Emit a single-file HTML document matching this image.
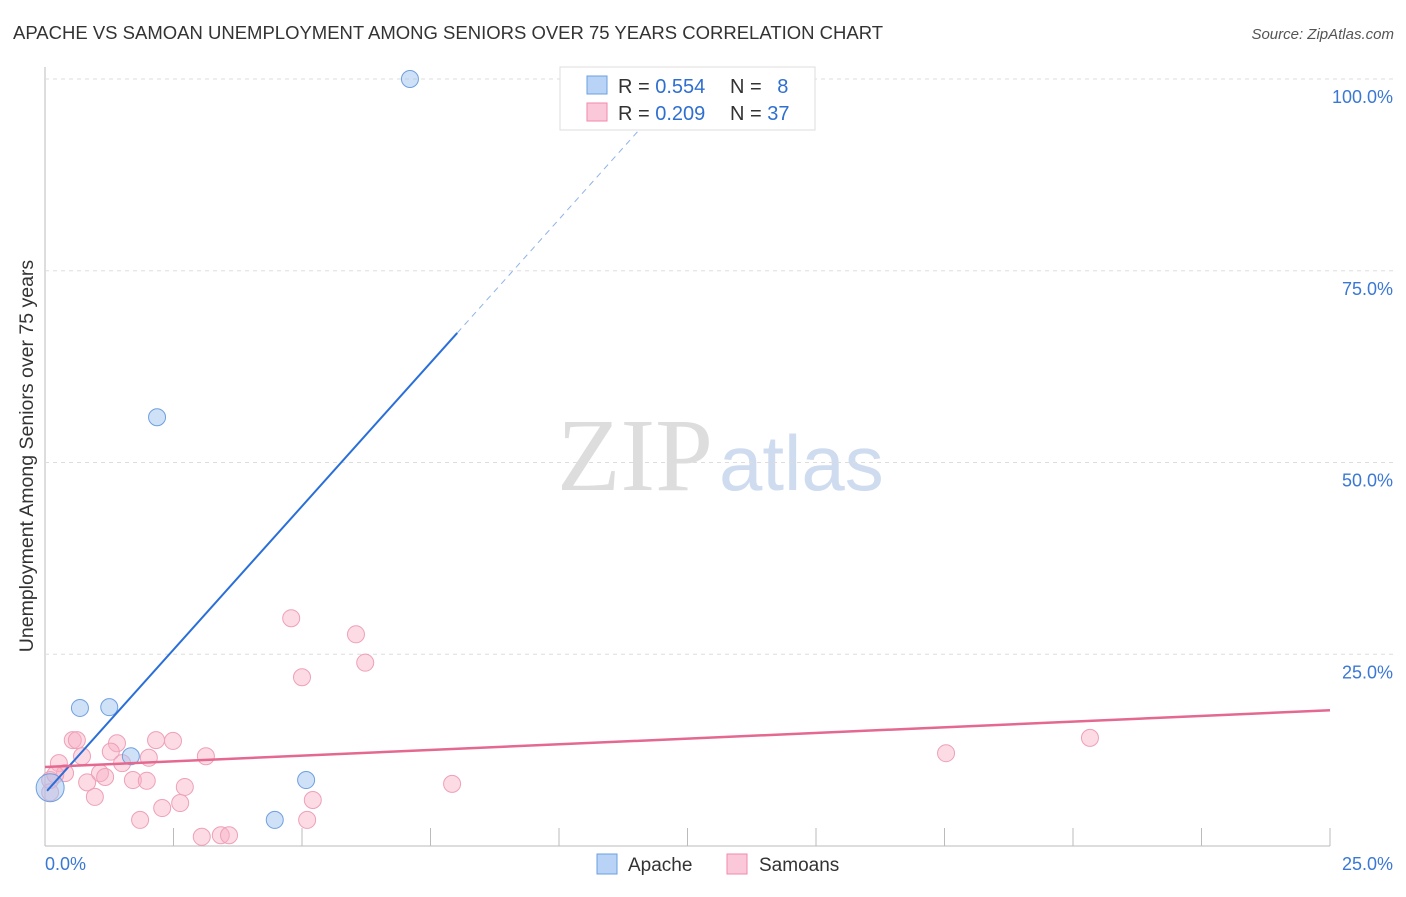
<!DOCTYPE html>
<html><head><meta charset="utf-8"><style>
body{margin:0;background:#fff;font-family:"Liberation Sans",sans-serif;}
</style></head><body>
<svg id="c" width="1406" height="892" xmlns="http://www.w3.org/2000/svg">
<text x="13" y="39" font-size="18.5" fill="#333">APACHE VS SAMOAN UNEMPLOYMENT AMONG SENIORS OVER 75 YEARS CORRELATION CHART</text>
<text x="1394" y="39" font-size="15" fill="#555" font-style="italic" text-anchor="end">Source: ZipAtlas.com</text>
<text x="713" y="490" font-size="104" fill="#ddd" font-family="Liberation Serif,serif" text-anchor="end">ZIP</text>
<text x="719" y="490" font-size="78" fill="#cfdcf0">atlas</text>
<text transform="translate(33,456) rotate(-90)" font-size="19.5" fill="#333" text-anchor="middle">Unemployment Among Seniors over 75 years</text>
<g id="grid"></g><g id="marks"></g>
<g>
<rect x="560" y="67" width="255" height="63" fill="#fff" stroke="#ddd"/>
<rect x="587" y="76" width="20" height="18" fill="#b8d3f5" stroke="#6a9fe0"/>
<rect x="587" y="103" width="20" height="18" fill="#fac8d8" stroke="#f08aab"/>
<text x="618" y="93" font-size="20" fill="#333">R = <tspan fill="#2f6fd0">0.554</tspan></text>
<text x="730" y="93" font-size="20" fill="#333">N = <tspan fill="#2f6fd0" dx="10">8</tspan></text>
<text x="618" y="120" font-size="20" fill="#333">R = <tspan fill="#2f6fd0">0.209</tspan></text>
<text x="730" y="120" font-size="20" fill="#333">N = <tspan fill="#2f6fd0">37</tspan></text>
</g>
<g>
<rect x="597" y="854" width="20" height="20" fill="#b8d3f5" stroke="#6a9fe0"/>
<text x="628" y="871" font-size="19" fill="#333">Apache</text>
<rect x="727" y="854" width="20" height="20" fill="#fac8d8" stroke="#f08aab"/>
<text x="759" y="871" font-size="19" fill="#333">Samoans</text>
</g>
</svg>
<script>
const apacheX=[7.10,2.18,0.68,1.25,1.67,5.08,4.47,0.10];
const apacheY=[100.0,55.9,18.0,18.1,11.7,8.6,3.4,7.6];
const samoanX=[4.79,6.05,6.23,5.00,0.54,0.62,0.27,0.72,1.40,1.28,2.16,2.49,3.13,2.02,1.50,0.39,1.07,1.17,0.82,1.71,1.98,2.72,0.97,2.63,2.28,1.85,5.21,5.10,3.05,3.42,3.58,7.92,0.10,17.53,20.33,0.10,0.20];
const samoanY=[29.7,27.6,23.9,22.0,13.8,13.8,10.8,11.7,13.4,12.3,13.8,13.7,11.7,11.5,10.8,9.5,9.5,9.0,8.3,8.6,8.5,7.7,6.4,5.6,4.95,3.4,6.0,3.4,1.2,1.4,1.4,8.1,7.0,12.1,14.1,8.6,9.3];
const yTicks=[25,50,75,100];
const yTickLabels=["25.0%","50.0%","75.0%","100.0%"];
const xTicks=[2.5,5,7.5,10,12.5,15,17.5,20,22.5,25];
const apacheFit=[6.9,7.48];const samoanFit=[10.3,0.296];
const NS='http://www.w3.org/2000/svg';
const X=v=>45+v*51.4, Y=v=>846-v*7.67;
function mk(tag,a,p){const e=document.createElementNS(NS,tag);for(const k in a)e.setAttribute(k,a[k]);p.appendChild(e);return e;}
const g=document.getElementById('grid'),m=document.getElementById('marks');
let ax=mk('line',{x1:45,y1:67,x2:45,y2:846,stroke:'#bbb'},g);


let bx=mk('line',{x1:45,y1:846,x2:1330,y2:846,stroke:'#bbb'},g);


yTicks.forEach((t,i)=>{
 let l=mk('line',{x1:45,y1:Y(t),x2:1394,y2:Y(t),stroke:'#ddd','stroke-dasharray':'4,4'},g);
 
 
 let tx=mk('text',{x:1393,y:Y(t)+24,'font-size':18,fill:'#3a78d4','text-anchor':'end'},g);tx.textContent=yTickLabels[i];
 
 
});
xTicks.forEach(t=>{let l=mk('line',{x1:X(t),y1:828,x2:X(t),y2:846,stroke:'#bbb'},g);
 
 });
let t0=mk('text',{x:45,y:870,'font-size':18,fill:'#3a78d4'},g);t0.textContent='0.0%';


let t1=mk('text',{x:1393,y:870,'font-size':18,fill:'#3a78d4','text-anchor':'end'},g);t1.textContent='25.0%';


samoanX.forEach((x,i)=>{let c=mk('circle',{cx:X(x),cy:Y(samoanY[i]),r:8.5,fill:'rgba(248,175,198,0.45)',stroke:'#eea0b8','stroke-width':1},m);
 
 });
apacheX.forEach((x,i)=>{let c=mk('circle',{cx:X(x),cy:Y(apacheY[i]),r:i==7?14:8.5,fill:'rgba(160,195,240,0.5)',stroke:'#6f9fe0','stroke-width':1},m);
 
 });
let f=(a,x)=>a[0]+a[1]*x;
let al=mk('line',{x1:X(0.04),y1:Y(f(apacheFit,0.04)),x2:X(8.02),y2:Y(f(apacheFit,8.02)),stroke:'#2a6fd8','stroke-width':2},m);


let ad=mk('line',{x1:X(8.02),y1:Y(f(apacheFit,8.02)),x2:X(11.6),y2:Y(f(apacheFit,11.6)),stroke:'#8fb3e8','stroke-width':1,'stroke-dasharray':'6,5'},m);


let sl=mk('line',{x1:X(0),y1:Y(f(samoanFit,0)),x2:X(25),y2:Y(f(samoanFit,25)),stroke:'#e4688f','stroke-width':2.5},m);


</script>
</body></html>
